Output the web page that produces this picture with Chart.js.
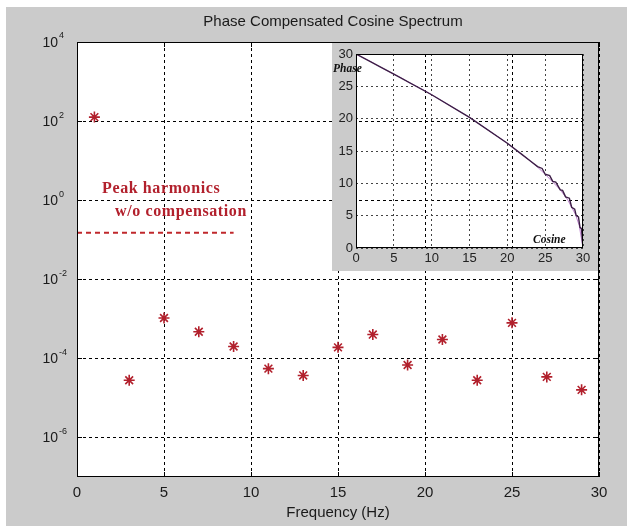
<!DOCTYPE html>
<html>
<head>
<meta charset="utf-8">
<script src="https://cdn.jsdelivr.net/npm/chart.js@4"></script>
<style>
  html, body { margin: 0; padding: 0; background: #fff; }
  #wrap { position: relative; width: 627px; height: 526px; }
  #mainChart { position: absolute; left: 0; top: 0; }
  #insetChart { position: absolute; left: 332px; top: 43px; }
</style>
</head>
<body>
<div id="wrap">
  <canvas id="mainChart" width="627" height="526" style="width:627px;height:526px"></canvas>
  <canvas id="insetChart" width="266" height="228" style="width:266px;height:228px"></canvas>
</div>
<script>
// main spectrum: odd harmonics
const harmonicFreq = [1, 3, 5, 7, 9, 11, 13, 15, 17, 19, 21, 23, 25, 27, 29];
const harmonicAmp = [126, 2.8e-5, 1.05e-3, 4.7e-4, 2.0e-4, 5.5e-5, 3.7e-5, 1.9e-4,
  4.0e-4, 6.8e-5, 3.0e-4, 2.8e-5, 7.9e-4, 3.4e-5, 1.6e-5];
// peak harmonics level without compensation
const uncompFreq = [0, 9];
const uncompLevel = [0.15, 0.15];
const xTicks = [0, 5, 10, 15, 20, 25, 30];
const yTickExp = [4, 2, 0, -2, -4, -6];

// inset: phase vs cosine
const insetCosine = [0, 1, 2, 3, 4, 5, 6, 7, 8, 9, 10, 11, 12, 13, 14, 15, 16, 17, 18, 19,
  20, 21, 22, 23, 24, 25, 26, 27, 28, 28.5, 29, 29.5, 30];
const insetPhase = [30, 29.4, 28.8, 28.1, 27.5, 26.9, 26.3, 25.6, 25.0, 24.4, 23.7, 23.0,
  22.3, 21.6, 20.9, 20.2, 19.4, 18.6, 17.8, 17.0, 16.2, 15.3, 14.4, 13.5, 12.5, 11.4,
  10.2, 9.0, 7.4, 6.3, 5.2, 3.5, 0];
const insetCosineStep = [0, 5, 10, 15, 20, 22, 23, 24, 24.6, 25, 25.6, 26, 26.4, 27, 27.3,
  27.7, 28.2, 28.5, 28.9, 29.1, 29.4, 29.6, 29.8, 30];
const insetPhaseStep = [30, 26.9, 23.7, 20.2, 16.2, 14.4, 13.5, 12.6, 12.3, 11.4, 11.2,
  10.3, 10.2, 9.0, 8.9, 7.9, 7.7, 6.3, 6.0, 5.0, 4.8, 3.2, 3.0, 0];

const figGray = "#cbcbcb";
const textCol = "#1a1a1a";
const redCol = "#b2202c";

function pts(xs, ys) {
  return xs.map((x, i) => ({ x: x, y: ys[i] }));
}

const mainDecor = {
  id: "mainDecor",
  beforeDraw(chart) {
    const ctx = chart.ctx;
    const a = chart.chartArea;
    ctx.save();
    ctx.fillStyle = "#fff";
    ctx.fillRect(0, 0, chart.width, chart.height);
    ctx.fillStyle = figGray;
    ctx.fillRect(6, 7, chart.width - 6, chart.height - 7);
    ctx.fillStyle = "#fff";
    ctx.fillRect(a.left, a.top, a.right - a.left, a.bottom - a.top);
    ctx.restore();
  },
  afterDraw(chart) {
    const ctx = chart.ctx;
    const a = chart.chartArea;
    const xs = chart.scales.x;
    const ys = chart.scales.y;
    ctx.save();
    // box + inward ticks
    ctx.strokeStyle = "#000";
    ctx.lineWidth = 1;
    ctx.setLineDash([]);
    ctx.strokeRect(a.left + 0.5, a.top + 0.5, a.right - a.left - 1, a.bottom - a.top - 1);
    ctx.beginPath();
    xTicks.forEach(v => {
      const px = Math.round(xs.getPixelForValue(v)) + 0.5;
      ctx.moveTo(px, a.bottom); ctx.lineTo(px, a.bottom - 5);
      ctx.moveTo(px, a.top); ctx.lineTo(px, a.top + 5);
    });
    yTickExp.forEach(e => {
      const py = Math.round(ys.getPixelForValue(Math.pow(10, e))) + 0.5;
      ctx.moveTo(a.left, py); ctx.lineTo(a.left + 5, py);
      ctx.moveTo(a.right, py); ctx.lineTo(a.right - 5, py);
    });
    ctx.stroke();

    // title
    ctx.fillStyle = textCol;
    ctx.font = "15px 'Liberation Sans', Arial, sans-serif";
    ctx.textAlign = "center";
    ctx.textBaseline = "middle";
    ctx.fillText("Phase Compensated Cosine Spectrum", 333, 22);
    // x axis title
    ctx.fillText("Frequency (Hz)", (a.left + a.right) / 2, 513);

    // y tick labels 10^n
    yTickExp.forEach(e => {
      const py = ys.getPixelForValue(Math.pow(10, e));
      ctx.font = "14px 'Liberation Sans', Arial, sans-serif";
      ctx.textAlign = "right";
      ctx.fillText("10", 58, py + 1);
      ctx.font = "9px 'Liberation Sans', Arial, sans-serif";
      ctx.textAlign = "left";
      ctx.fillText(String(e), 59, py - 6);
    });

    // annotation
    ctx.fillStyle = redCol;
    ctx.font = "bold 16px 'Liberation Serif', 'Times New Roman', serif";
    ctx.letterSpacing = "0.6px";
    ctx.textAlign = "left";
    ctx.fillText("Peak harmonics", xs.getPixelForValue(1.44), ys.getPixelForValue(1.95));
    ctx.fillText("w/o compensation", xs.getPixelForValue(2.19), ys.getPixelForValue(0.51));
    ctx.restore();
  }
};

new Chart(document.getElementById("mainChart"), {
  type: "scatter",
  data: {
    datasets: [
      {
        data: pts(harmonicFreq, harmonicAmp),
        pointStyle: "star",
        pointRadius: 5.5,
        borderColor: redCol,
        backgroundColor: redCol,
        borderWidth: 1.6,
        showLine: false
      },
      {
        data: pts(uncompFreq, uncompLevel),
        showLine: true,
        borderColor: "#c0282c",
        borderWidth: 2.2,
        borderDash: [5, 4],
        pointRadius: 0
      }
    ]
  },
  options: {
    responsive: false,
    animation: false,
    layout: { padding: { left: 0, top: 42, right: 28, bottom: 0 } },
    plugins: { legend: { display: false }, tooltip: { enabled: false }, title: { display: false } },
    scales: {
      x: {
        type: "linear",
        min: 0,
        max: 30,
        afterBuildTicks: s => { s.ticks = xTicks.map(v => ({ value: v })); },
        afterFit: s => { s.height = 49; },
        grid: { color: "#000", lineWidth: 1, drawTicks: false },
        border: { display: false, dash: [3, 3] },
        ticks: { padding: 7, color: textCol, font: { family: "'Liberation Sans', Arial, sans-serif", size: 15 } }
      },
      y: {
        type: "logarithmic",
        min: 1e-7,
        max: 1e4,
        afterBuildTicks: s => { s.ticks = yTickExp.map(e => ({ value: Math.pow(10, e) })); },
        afterFit: s => { s.width = 77; },
        grid: { color: "#000", lineWidth: 1, drawTicks: false },
        border: { display: false, dash: [3, 3] },
        ticks: { display: false }
      }
    }
  },
  plugins: [mainDecor]
});

const insetDecor = {
  id: "insetDecor",
  beforeDraw(chart) {
    const ctx = chart.ctx;
    const a = chart.chartArea;
    ctx.save();
    ctx.fillStyle = figGray;
    ctx.fillRect(0, 0, chart.width, chart.height);
    ctx.clearRect(a.left, a.top, a.right - a.left, a.bottom - a.top);
    ctx.restore();
  },
  afterDraw(chart) {
    const ctx = chart.ctx;
    const a = chart.chartArea;
    ctx.save();
    ctx.strokeStyle = "#000";
    ctx.lineWidth = 1;
    ctx.strokeRect(a.left + 0.5, a.top + 0.5, a.right - a.left - 1, a.bottom - a.top - 1);
    ctx.fillStyle = "#111";
    ctx.font = "italic bold 11.5px 'Liberation Serif', 'Times New Roman', serif";
    ctx.textBaseline = "middle";
    ctx.textAlign = "left";
    ctx.fillText("Phase", 1, 26);
    ctx.fillText("Cosine", 201, 197);
    ctx.restore();
  }
};

const insetTickFont = { family: "'Liberation Sans', Arial, sans-serif", size: 13 };

new Chart(document.getElementById("insetChart"), {
  type: "scatter",
  data: {
    datasets: [
      {
        data: pts(insetCosineStep, insetPhaseStep),
        showLine: true,
        borderColor: "#3c1e46",
        borderWidth: 1.4,
        pointRadius: 0
      },
      {
        data: pts(insetCosine, insetPhase),
        showLine: true,
        borderColor: "rgba(180,110,200,0.85)",
        borderWidth: 1,
        pointRadius: 0
      }
    ]
  },
  options: {
    responsive: false,
    animation: false,
    layout: { padding: { left: 0, top: 11, right: 15, bottom: 0 } },
    plugins: { legend: { display: false }, tooltip: { enabled: false } },
    scales: {
      x: {
        type: "linear",
        min: 0,
        max: 30,
        afterFit: s => { s.height = 23; },
        grid: { color: "#444", lineWidth: 1, drawTicks: false },
        border: { display: false, dash: [2, 3] },
        ticks: { stepSize: 5, padding: 3, color: "#222", font: insetTickFont }
      },
      y: {
        type: "linear",
        min: 0,
        max: 30,
        afterFit: s => { s.width = 24; },
        grid: { color: "#444", lineWidth: 1, drawTicks: false },
        border: { display: false, dash: [2, 3] },
        ticks: { stepSize: 5, padding: 3, color: "#222", font: insetTickFont }
      }
    }
  },
  plugins: [insetDecor]
});
</script>
</body>
</html>
